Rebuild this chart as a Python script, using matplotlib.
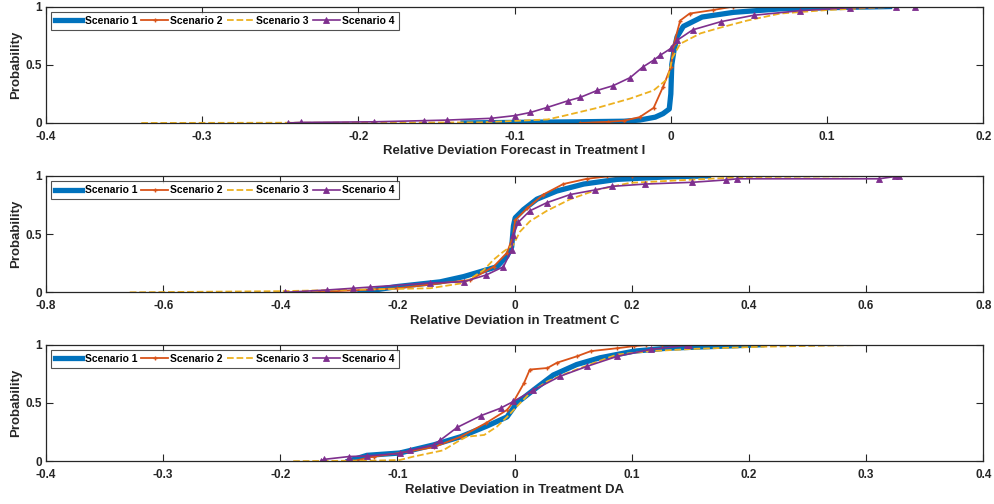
import numpy as np
import matplotlib.pyplot as plt

plt.rcParams['font.family'] = ['Liberation Sans', 'DejaVu Sans']
plt.rcParams['font.weight'] = 'bold'

labels = ['Scenario 1', 'Scenario 2', 'Scenario 3', 'Scenario 4']
colors = ['#0072BD', '#D95319', '#EDB120', '#7E2F8E']

dev_I_s1 = [-0.133, -0.10, -0.06, -0.03, -0.02, -0.01, -0.005, -0.001, 0.0, 0.0006, 0.002, 0.004, 0.008, 0.02, 0.04, 0.07, 0.10, 0.14]
prob_I_s1 = [0.0, 0.005, 0.01, 0.015, 0.025, 0.05, 0.08, 0.12, 0.25, 0.5, 0.62, 0.74, 0.83, 0.91, 0.95, 0.98, 0.99, 1.0]
dev_I_s2 = [-0.058, -0.04, -0.03, -0.02, -0.011, -0.005, 0.0, 0.002, 0.006, 0.012, 0.027, 0.040]
prob_I_s2 = [0.0, 0.01, 0.02, 0.05, 0.13, 0.31, 0.48, 0.68, 0.88, 0.94, 0.97, 1.0]
dev_I_s3 = [-0.339, -0.25, -0.15, -0.122, -0.079, -0.069, -0.047, -0.026, -0.011, -0.002, 0.001, 0.006, 0.019, 0.032, 0.049, 0.070, 0.10, 0.147]
prob_I_s3 = [0.0, 0.002, 0.004, 0.005, 0.03, 0.06, 0.13, 0.21, 0.28, 0.38, 0.56, 0.68, 0.77, 0.82, 0.88, 0.94, 0.97, 1.0]
dev_I_s4 = [-0.245, -0.237, -0.19, -0.158, -0.143, -0.115, -0.10, -0.09, -0.079, -0.066, -0.058, -0.047, -0.037, -0.026,
            -0.018, -0.011, -0.007, 0.0, 0.004, 0.014, 0.032, 0.053, 0.083, 0.115, 0.144, 0.156]
prob_I_s4 = [0.0, 0.005, 0.01, 0.02, 0.025, 0.04, 0.063, 0.09, 0.134, 0.19, 0.22, 0.28, 0.32, 0.39,
             0.48, 0.54, 0.58, 0.64, 0.71, 0.80, 0.87, 0.925, 0.965, 0.99, 0.995, 1.0]

# Treatment C
dev_C_s1 = [-0.264, -0.2, -0.127, -0.087, -0.03, -0.013, -0.005, -0.002, 0.001, 0.015, 0.038, 0.072, 0.118, 0.175, 0.254, 0.331]
prob_C_s1 = [0.0, 0.05, 0.09, 0.135, 0.22, 0.31, 0.39, 0.57, 0.64, 0.71, 0.80, 0.87, 0.93, 0.97, 0.99, 1.0]
dev_C_s2 = [-0.347, -0.2, -0.076, -0.036, -0.013, -0.003, 0.001, 0.021, 0.049, 0.083, 0.123, 0.158, 0.2]
prob_C_s2 = [0.0, 0.035, 0.106, 0.22, 0.34, 0.48, 0.62, 0.72, 0.84, 0.93, 0.975, 0.995, 1.0]
dev_C_s3 = [-0.657, -0.4, -0.144, -0.087, -0.053, -0.036, -0.019, -0.002, 0.009, 0.026, 0.055, 0.095, 0.14, 0.197, 0.311, 0.394, 0.65]
prob_C_s3 = [0.0, 0.01, 0.035, 0.08, 0.19, 0.28, 0.35, 0.41, 0.52, 0.61, 0.70, 0.80, 0.88, 0.94, 0.97, 0.99, 1.0]
dev_C_s4 = [-0.392, -0.32, -0.276, -0.247, -0.144, -0.087, -0.048, -0.019, -0.005, -0.002, 0.006, 0.026, 0.055, 0.095,
            0.138, 0.166, 0.223, 0.303, 0.36, 0.38, 0.622, 0.65, 0.656]
prob_C_s4 = [0.0, 0.02, 0.035, 0.045, 0.08, 0.09, 0.15, 0.22, 0.365, 0.49, 0.6, 0.70, 0.77, 0.84,
             0.88, 0.91, 0.93, 0.945, 0.965, 0.975, 0.975, 0.995, 1.0]

# Treatment DA
dev_DA_s1 = [-0.142, -0.126, -0.098, -0.069, -0.046, -0.024, -0.0065, 0.002, 0.016, 0.033, 0.053, 0.073, 0.102, 0.13, 0.211]
prob_DA_s1 = [0.0, 0.05, 0.07, 0.14, 0.21, 0.30, 0.38, 0.50, 0.61, 0.74, 0.83, 0.888, 0.945, 0.97, 1.0]
dev_DA_s2 = [-0.138, -0.12, -0.098, -0.069, -0.046, -0.024, -0.0065, -0.001, 0.008, 0.013, 0.028, 0.036, 0.053, 0.065,
             0.0875, 0.102, 0.112, 0.126]
prob_DA_s2 = [0.0, 0.04, 0.07, 0.12, 0.21, 0.33, 0.44, 0.51, 0.67, 0.787, 0.80, 0.845, 0.90, 0.945,
              0.97, 0.988, 0.997, 1.0]
dev_DA_s3 = [-0.189, -0.12, -0.098, -0.086, -0.061, -0.049, -0.041, -0.026, -0.015, -0.0065, 0.002, 0.013, 0.028, 0.045,
             0.0675, 0.0875, 0.116, 0.154, 0.211, 0.311]
prob_DA_s3 = [0.0, 0.005, 0.01, 0.04, 0.093, 0.166, 0.21, 0.225, 0.297, 0.38, 0.47, 0.585, 0.686, 0.757,
              0.843, 0.916, 0.945, 0.965, 0.983, 1.0]
dev_DA_s4 = [-0.165, -0.163, -0.141, -0.126, -0.098, -0.089, -0.069, -0.0635, -0.049, -0.029, -0.012, -0.001, 0.016,
             0.039, 0.062, 0.0875, 0.116, 0.147, 0.149]
prob_DA_s4 = [0.0, 0.015, 0.04, 0.045, 0.066, 0.093, 0.14, 0.18, 0.29, 0.39, 0.455, 0.513, 0.61,
              0.73, 0.815, 0.90, 0.96, 0.995, 1.0]

panels = [
    ('Relative Deviation Forecast in Treatment I', (-0.4, 0.2), np.arange(-0.4, 0.21, 0.1),
     [(dev_I_s1, prob_I_s1), (dev_I_s2, prob_I_s2), (dev_I_s3, prob_I_s3), (dev_I_s4, prob_I_s4)]),
    ('Relative Deviation in Treatment C', (-0.8, 0.8), np.arange(-0.8, 0.81, 0.2),
     [(dev_C_s1, prob_C_s1), (dev_C_s2, prob_C_s2), (dev_C_s3, prob_C_s3), (dev_C_s4, prob_C_s4)]),
    ('Relative Deviation in Treatment DA', (-0.4, 0.4), np.arange(-0.4, 0.41, 0.1),
     [(dev_DA_s1, prob_DA_s1), (dev_DA_s2, prob_DA_s2), (dev_DA_s3, prob_DA_s3), (dev_DA_s4, prob_DA_s4)]),
]

styles = [
    dict(lw=3.8, ls='-'),
    dict(lw=1.3, ls='-', marker='+', ms=3.5, mew=1),
    dict(lw=1.3, ls='--'),
    dict(lw=1.2, ls='-', marker='^', ms=4, mew=0.6),
]

def fmt(v):
    s = '%g' % round(v, 2)
    return '0' if s == '-0' else s

fig = plt.figure(figsize=(9.95, 5.04), dpi=100)
bottoms = [0.756, 0.420, 0.085]
axcol = '#262626'

for (xlabel, xlim, xticks, curves), b in zip(panels, bottoms):
    ax = fig.add_axes([0.0462, b, 0.942, 0.231])
    for (x, p), c, st, lab in zip(curves, colors, styles, labels):
        ax.plot(x, p, color=c, label=lab, **st)
    ax.set_xlim(xlim)
    ax.set_ylim(0, 1)
    ax.set_xticks(xticks)
    ax.set_xticklabels([fmt(t) for t in xticks])
    ax.set_yticks([0, 0.5, 1])
    ax.set_yticklabels(['0', '0.5', '1'])
    ax.tick_params(direction='in', top=True, right=True, length=5, width=0.8,
                   labelsize=8.5, colors=axcol)
    ax.tick_params(axis='x', pad=5.5)
    ax.tick_params(axis='y', pad=3)
    for sp in ax.spines.values():
        sp.set_color(axcol)
        sp.set_linewidth(0.9)
    ax.set_xlabel(xlabel, fontsize=9.5, fontweight='bold', color=axcol, labelpad=2)
    ax.set_ylabel('Probability', fontsize=9.5, fontweight='bold', color=axcol, labelpad=2)
    leg = ax.legend(loc='upper left', ncol=4, fontsize=7.5, frameon=True, fancybox=False,
                    edgecolor=axcol, handlelength=2.6, handletextpad=0.2, columnspacing=0.4,
                    borderpad=0.4, borderaxespad=0.5)
    leg.get_frame().set_linewidth(0.8)

fig.savefig('out.png', dpi=100)
